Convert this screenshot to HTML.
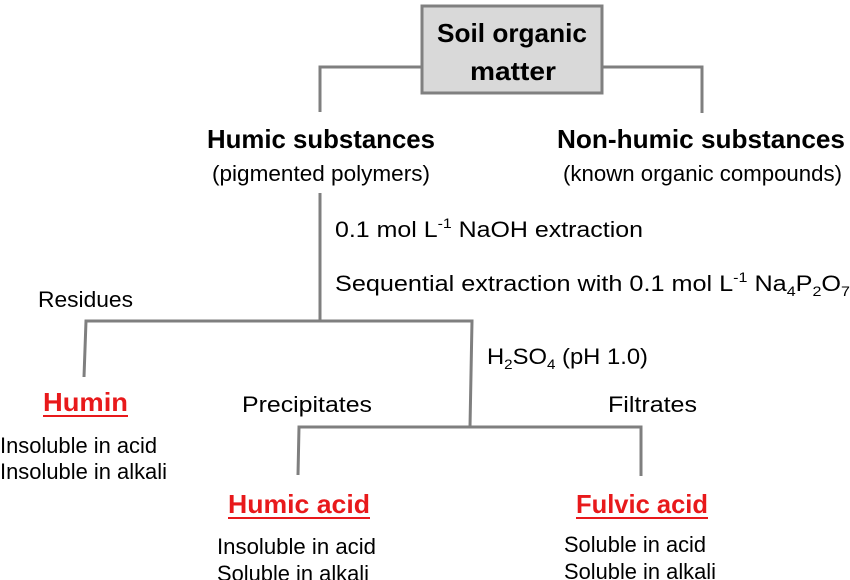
<!DOCTYPE html>
<html><head><meta charset="utf-8"><style>
html,body{margin:0;padding:0;background:#fff;}
svg{display:block;font-family:"Liberation Sans",sans-serif;}
.n{font-size:22px;fill:#000;}
.b{font-size:26px;font-weight:bold;fill:#000;}
.r{font-size:26px;font-weight:bold;fill:#e8191b;}
.ln{stroke:#7f7f7f;stroke-width:3;fill:none;}
.ul{stroke:#e8191b;stroke-width:2;}
</style></head><body>
<svg width="850" height="580" viewBox="0 0 850 580">
<g>
<polyline class="ln" points="422,67 320,67 320,112"/>
<polyline class="ln" points="602,67 702,67 702,113"/>
<line class="ln" x1="320" y1="193" x2="320" y2="321"/>
<polyline class="ln" points="84,377 86,321 472,321 470,427"/>
<polyline class="ln" points="298,475 299,427 641,427 641,476"/>
</g>
<rect x="422" y="6" width="180" height="87" fill="#d9d9d9" stroke="#808080" stroke-width="3"/>
<text class="b" x="437" y="42" textLength="150" lengthAdjust="spacingAndGlyphs">Soil organic</text>
<text class="b" x="470" y="80" textLength="86" lengthAdjust="spacingAndGlyphs">matter</text>

<text class="b" x="207" y="148" textLength="228" lengthAdjust="spacingAndGlyphs">Humic substances</text>
<text class="n" x="212" y="181" textLength="218" lengthAdjust="spacingAndGlyphs">(pigmented polymers)</text>
<text class="b" x="557" y="148" textLength="288" lengthAdjust="spacingAndGlyphs">Non-humic substances</text>
<text class="n" x="563" y="181" textLength="279" lengthAdjust="spacingAndGlyphs">(known organic compounds)</text>

<text class="n" x="335" y="237" textLength="308" lengthAdjust="spacingAndGlyphs">0.1 mol L<tspan font-size="14" dy="-9">-1</tspan><tspan dy="9"> NaOH extraction</tspan></text>
<text class="n" x="335" y="291" textLength="515" lengthAdjust="spacingAndGlyphs">Sequential extraction with 0.1 mol L<tspan font-size="14" dy="-9">-1</tspan><tspan dy="9"> Na</tspan><tspan font-size="14" dy="5">4</tspan><tspan dy="-5">P</tspan><tspan font-size="14" dy="5">2</tspan><tspan dy="-5">O</tspan><tspan font-size="14" dy="5">7</tspan></text>
<text class="n" x="38" y="307" textLength="95" lengthAdjust="spacingAndGlyphs">Residues</text>
<text class="n" x="487" y="364" textLength="161" lengthAdjust="spacingAndGlyphs">H<tspan font-size="14" dy="5">2</tspan><tspan dy="-5">SO</tspan><tspan font-size="14" dy="5">4</tspan><tspan dy="-5"> (pH 1.0)</tspan></text>

<text class="r" x="43" y="411" textLength="85" lengthAdjust="spacingAndGlyphs">Humin</text>
<line class="ul" x1="43" y1="416" x2="128" y2="416"/>
<text class="n" x="0" y="453" textLength="157" lengthAdjust="spacingAndGlyphs">Insoluble in acid</text>
<text class="n" x="0" y="479" textLength="167" lengthAdjust="spacingAndGlyphs">Insoluble in alkali</text>

<text class="n" x="242" y="412" textLength="130" lengthAdjust="spacingAndGlyphs">Precipitates</text>
<text class="n" x="608" y="412" textLength="89" lengthAdjust="spacingAndGlyphs">Filtrates</text>

<text class="r" x="228" y="513" textLength="142" lengthAdjust="spacingAndGlyphs">Humic acid</text>
<line class="ul" x1="228" y1="518" x2="370" y2="518"/>
<text class="n" x="217" y="554" textLength="159" lengthAdjust="spacingAndGlyphs">Insoluble in acid</text>
<text class="n" x="217" y="581" textLength="152" lengthAdjust="spacingAndGlyphs">Soluble in alkali</text>

<text class="r" x="576" y="513" textLength="132" lengthAdjust="spacingAndGlyphs">Fulvic acid</text>
<line class="ul" x1="576" y1="518" x2="708" y2="518"/>
<text class="n" x="564" y="552" textLength="142" lengthAdjust="spacingAndGlyphs">Soluble in acid</text>
<text class="n" x="564" y="579" textLength="152" lengthAdjust="spacingAndGlyphs">Soluble in alkali</text>
</svg>
</body></html>
